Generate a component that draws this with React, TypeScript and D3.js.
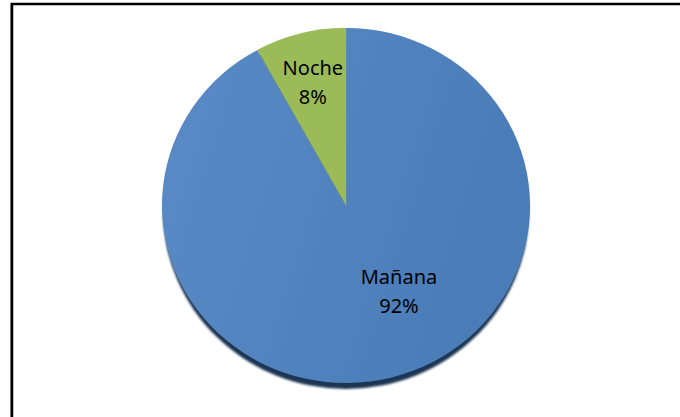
import React from "react";
import * as d3 from "d3";

const categories = ["Mañana", "Noche"];
const values = [92, 8];
const percentLabels = ["92%", "8%"];

const W = 680;
const H = 417;
const cx = 346;
const cy = 205.5;
const rx = 184;
const ry = 177.5;
const fills = ["url(#blueGrad)", "#9bbb59"];
// label placement: radius fraction and angle shift (radians)
const labelLayout = [
  { r: 0.6, shift: -0.27 },
  { r: 0.68, shift: 0 },
];

export default function App() {
  const data = categories.map((c, i) => ({ name: c, value: values[i], pct: percentLabels[i] }));
  const pie = d3.pie<any>().sort(null).value((d: any) => d.value);
  const arcs = pie(data);
  const arc = d3.arc<any>().innerRadius(0).outerRadius(ry);
  const sx = rx / ry;

  return (
    <svg width={W} height={H} style={{ position: "absolute", left: 0, top: 0, background: "#fff" }}>
      <defs>
        <linearGradient id="blueGrad" x1="0" y1="0" x2="1" y2="0.3">
          <stop offset="0" stopColor="#5a8bc7" />
          <stop offset="1" stopColor="#4a7cb7" />
        </linearGradient>
        <filter id="blur1" x="-10%" y="-10%" width="120%" height="120%">
          <feGaussianBlur stdDeviation="1" />
        </filter>
      </defs>
      {/* frame */}
      <line x1={10.5} y1={3} x2={10.5} y2={H} stroke="#9a9a9a" strokeWidth={1} />
      <line x1={12} y1={3} x2={12} y2={H} stroke="#000" strokeWidth={2.5} />
      <line x1={11} y1={4} x2={W} y2={4} stroke="#000" strokeWidth={2.5} />
      {/* shadow */}
      <ellipse cx={cx} cy={cy + 5.5} rx={rx - 1} ry={ry + 0.5} fill="#1f3552" filter="url(#blur1)" />
      <g transform={`translate(${cx},${cy}) scale(${sx},1)`}>
        {arcs.map((a, i) => (
          <path key={i} d={arc(a) as string} fill={fills[i]} stroke={fills[i] === "#9bbb59" ? "#9bbb59" : "none"} strokeWidth={0.3} />
        ))}
      </g>
      {arcs.map((a, i) => {
        const mid = (a.startAngle + a.endAngle) / 2 + labelLayout[i].shift;
        const f = labelLayout[i].r;
        const x = cx + Math.sin(mid) * rx * f;
        const y = cy - Math.cos(mid) * ry * f;
        return (
          <text key={i} x={x} y={y} textAnchor="middle" fontFamily="'Noto Sans', sans-serif" fontSize={20} fill="#000">
            <tspan x={x - 2} dy={-14}>{a.data.name}</tspan>
            <tspan x={x - 2} dy={29}>{a.data.pct}</tspan>
          </text>
        );
      })}
    </svg>
  );
}
